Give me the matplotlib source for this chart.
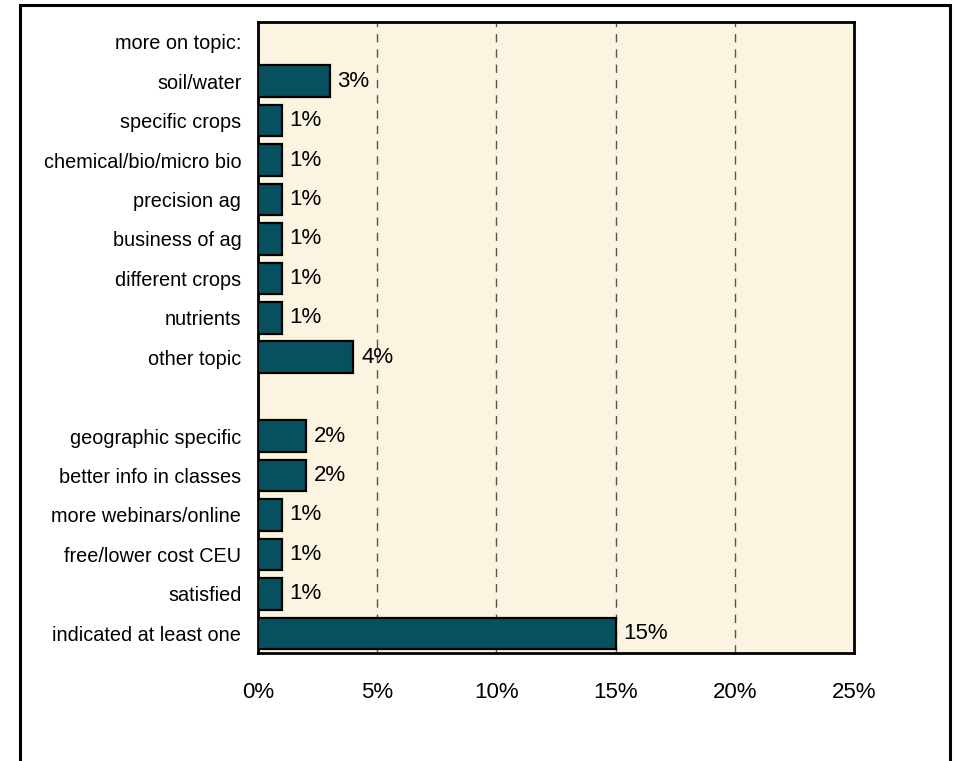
import matplotlib
matplotlib.use("Agg")
import matplotlib.pyplot as plt
import matplotlib.ticker as mtick
from matplotlib.patches import Rectangle

# survey responses, top to bottom ("" rows are spacers / headings)
labels = ['more on topic:', 'soil/water', 'specific crops', 'chemical/bio/micro bio',
          'precision ag', 'business of ag', 'different crops', 'nutrients', 'other topic',
          '', 'geographic specific', 'better info in classes', 'more webinars/online',
          'free/lower cost CEU', 'satisfied', 'indicated at least one']
values = [None, 3, 1, 1, 1, 1, 1, 1, 4, None, 2, 2, 1, 1, 1, 15]
xticks = [0, 5, 10, 15, 20, 25]

bar_color = '#06505F'
bg_color = '#FBF4E0'

plt.rcParams['font.family'] = ['Liberation Sans', 'DejaVu Sans']

fig = plt.figure(figsize=(9.55, 7.61), dpi=100)
ax = fig.add_axes([0.2702, 0.1419, 0.624, 0.8292])
ax.set_facecolor(bg_color)

# outer chart border (open at the bottom)
fig.patches.append(Rectangle((0.021, -0.2), 0.974, 1.193, transform=fig.transFigure,
                             fill=False, edgecolor='black', linewidth=2.2, clip_on=False))

pos = list(range(len(labels)))
for y, v in zip(pos, values):
    if v is None:
        continue
    ax.barh(y, v, height=0.8, color=bar_color, edgecolor='black', linewidth=1.6, zorder=3)
    ax.text(v + 0.33, y, '{}%'.format(v), va='center', ha='left', fontsize=16, zorder=4)

ax.set_ylim(len(labels) - 0.5, -0.5)
ax.set_xlim(0, 25)
ax.set_yticks(pos)
ax.set_yticklabels(labels, fontsize=14.3)
ax.set_xticks(xticks)
ax.xaxis.set_major_formatter(mtick.FuncFormatter(lambda x, p: '{:d}%'.format(int(x))))

for t in xticks[1:-1]:
    ax.axvline(t, color='#555555', linestyle=(0, (6, 5)), linewidth=1, zorder=1)

ax.tick_params(axis='y', length=0, pad=12)
ax.tick_params(axis='x', length=0, pad=21, labelsize=16)
for s in ax.spines.values():
    s.set_linewidth(2)
    s.set_color('black')

fig.savefig('out.png', dpi=100)
